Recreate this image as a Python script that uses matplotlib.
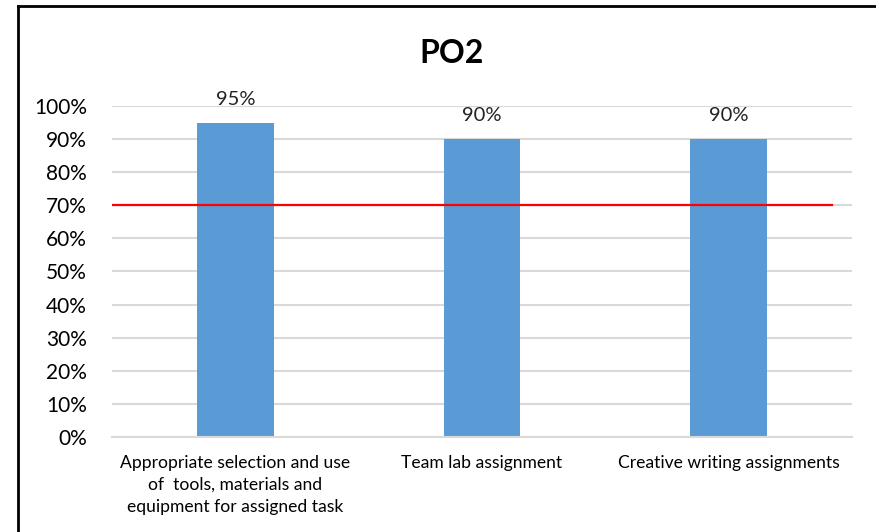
import matplotlib.pyplot as plt
from matplotlib.lines import Line2D
from matplotlib.ticker import PercentFormatter

plt.rcParams["font.family"] = ["Lato", "DejaVu Sans"]

categories = [
    "Appropriate selection and use\nof  tools, materials and\nequipment for assigned task",
    "Team lab assignment",
    "Creative writing assignments",
]
scores = [0.95, 0.90, 0.90]
value_labels = ["95%", "90%", "90%"]
target = 0.70

fig = plt.figure(figsize=(8.76, 5.32), dpi=100)
ax = fig.add_axes([0.1279, 0.1786, 0.8447, 0.6222])

x = range(len(categories))
ax.bar(x, scores, width=0.31, color="#5B9BD5", zorder=2)
for xi, val, lab in zip(x, scores, value_labels):
    ax.text(xi, val + 0.045, lab, ha="center", va="bottom", fontsize=14.5, color="#222222")

ax.axhline(target, xmin=0, xmax=0.973, color="#FF0000", linewidth=1.6, zorder=3)

ax.set_xlim(-0.5, 2.5)
ax.set_ylim(0, 1.0)
ax.set_yticks([i / 10 for i in range(11)])
ax.yaxis.set_major_formatter(PercentFormatter(1.0, decimals=0))
ax.set_xticks(list(x))
ax.set_xticklabels(categories, fontsize=12.6, linespacing=1.45)
ax.tick_params(axis="y", length=0, labelsize=15, pad=18)
ax.tick_params(axis="x", length=0, pad=13)
ax.grid(axis="y", color="#D9D9D9", linewidth=1.5, zorder=0)
ax.set_axisbelow(True)
for side in ["left", "right", "top"]:
    ax.spines[side].set_visible(False)
ax.spines["bottom"].set_color("#D9D9D9")
ax.spines["bottom"].set_linewidth(1.5)

fig.text(0.515, 0.90, "PO2", ha="center", va="center", fontsize=23, fontweight="bold")

# outer frame: top and left edges only
fig.add_artist(Line2D([0.020, 1.0], [0.988, 0.988], color="black", linewidth=2, transform=fig.transFigure))
fig.add_artist(Line2D([0.020, 0.020], [0.0, 0.988], color="black", linewidth=2, transform=fig.transFigure))

fig.savefig("out.png", dpi=100)
